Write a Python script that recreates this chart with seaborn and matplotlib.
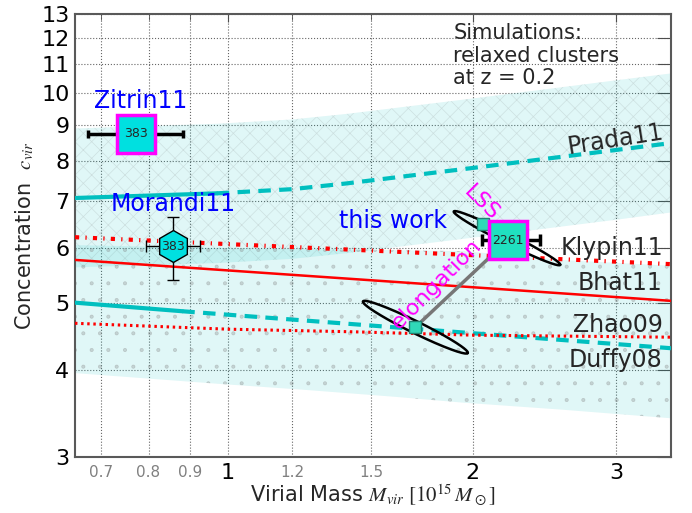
import numpy as np
import pandas as pd
import seaborn as sns
import matplotlib.pyplot as plt
from matplotlib.ticker import FixedLocator, FixedFormatter, NullLocator

sns.set_style("white")
plt.rcParams['font.family'] = ['DejaVu Sans']
plt.rcParams['mathtext.fontset'] = 'stix'
plt.rcParams['hatch.linewidth'] = 0.5

# model curves (M_vir in 1e15 Msun, concentration)
prada_m = [0.65, 0.97, 1.2, 1.4, 2.0, 3.0, 3.5]
prada_c = [7.07, 7.18, 7.28, 7.42, 7.81, 8.29, 8.48]
prada_lo = [5.62, 5.70, 5.78, 5.89, 6.20, 6.58, 6.74]
prada_hi = [8.90, 9.04, 9.17, 9.34, 9.83, 10.44, 10.68]
prada_sim_max = 0.97

duffy_m = [0.65, 0.88, 3.5]
duffy_c = [5.00, 4.86, 4.30]
duffy_sim_max = 0.88
duffy_band_m = [0.65, 0.98, 1.23, 1.61, 1.95, 2.56, 3.5]
duffy_lo = [3.96, 3.82, 3.75, 3.66, 3.59, 3.51, 3.41]
duffy_hi = [6.05, 5.99, 5.97, 5.95, 5.93, 5.76, 5.65]

zhao_m = [0.65, 1.0, 1.43, 2.0, 3.5]
zhao_c = [4.67, 4.58, 4.54, 4.49, 4.46]

bhat_m = [0.65, 3.5]
bhat_c = [5.76, 5.03]

klypin_m = [0.65, 3.5]
klypin_c = [6.21, 5.68]

# observations
zitrin = dict(m=0.773, c=8.74, mlo=0.674, mhi=0.882, n='383')
morandi = dict(m=0.858, c=6.03, mlo=0.795, mhi=0.925, clo=5.39, chi=6.64, n='383')
thiswork = dict(m=2.208, c=6.15, mlo=2.05, mhi=2.42, n='2261')

# LSS / elongation corrected points and their ellipses (log space)
path_m = [2.058, 2.208, 1.70]
path_c = [6.48, 6.15, 4.61]
small_m = [2.058, 1.70]
small_c = [6.48, 4.61]
ell_m = [2.202, 1.70]
ell_c = [6.19, 4.61]
ell_a = [(0.0653, -0.0384), (0.0643, -0.0371)]
ell_b = [(0.0027, 0.0065), (0.00325, 0.0077)]

cyan = '#00BFBF'
band = (0.0, 0.75, 0.75, 0.12)

fig = plt.figure(figsize=(6.92, 5.13), dpi=100)
ax = fig.add_axes([0.1084, 0.1092, 0.8613, 0.8635])
ax.set_xscale('log')
ax.set_yscale('log')

ax.fill_between(prada_m, prada_lo, prada_hi, facecolor=band,
                edgecolor=(0.5, 0.5, 0.5, 0.2), hatch='xx', lw=0, zorder=1)
ax.fill_between(duffy_band_m, duffy_lo, duffy_hi, facecolor=band,
                edgecolor=(0.5, 0.5, 0.5, 0.3), hatch='.', lw=0, zorder=1)

pr = pd.DataFrame({'m': prada_m, 'c': prada_c})
du = pd.DataFrame({'m': duffy_m, 'c': duffy_c})
sns.lineplot(data=pr[pr.m <= prada_sim_max], x='m', y='c', color=cyan, lw=3, ax=ax, zorder=3)
sns.lineplot(data=pr[pr.m >= prada_sim_max], x='m', y='c', color=cyan, lw=3,
             ls=(0, (3, 2)), ax=ax, zorder=3)
sns.lineplot(data=du[du.m <= duffy_sim_max], x='m', y='c', color=cyan, lw=3, ax=ax, zorder=3)
sns.lineplot(data=du[du.m >= duffy_sim_max], x='m', y='c', color=cyan, lw=3,
             ls=(0, (3, 2)), ax=ax, zorder=3)
sns.lineplot(x=zhao_m, y=zhao_c, color='red', lw=2.2, ls=(0, (0.8, 1.2)), ax=ax, zorder=3)
sns.lineplot(x=bhat_m, y=bhat_c, color='red', lw=1.8, ax=ax, zorder=3)
sns.lineplot(x=klypin_m, y=klypin_c, color='red', lw=3, ls=(0, (1, 1.5, 0.3, 1.5)), ax=ax, zorder=3)

# ellipses
t = np.linspace(0, 2 * np.pi, 200)
for m0, c0, a, b in zip(ell_m, ell_c, ell_a, ell_b):
    lx = np.log10(m0) + a[0] * np.cos(t) + b[0] * np.sin(t)
    ly = np.log10(c0) + a[1] * np.cos(t) + b[1] * np.sin(t)
    ax.plot(10 ** lx, 10 ** ly, color='black', lw=1.8, zorder=4)

ax.plot(path_m, path_c, color='#777777', lw=2.5, zorder=5)
ax.plot(small_m, small_c, 's', ms=9, mfc='#30D8B8', mec='#208070', mew=1, zorder=6)

# data points
ax.errorbar(zitrin['m'], zitrin['c'],
            xerr=[[zitrin['m'] - zitrin['mlo']], [zitrin['mhi'] - zitrin['m']]],
            fmt='s', ms=27, mfc='#00E0E0', mec='magenta', mew=2.5,
            ecolor='black', elinewidth=2.5, capsize=3, capthick=3, zorder=7)
ax.text(zitrin['m'], zitrin['c'], zitrin['n'], ha='center', va='center', fontsize=9, zorder=8)

ax.errorbar(morandi['m'], morandi['c'],
            xerr=[[morandi['m'] - morandi['mlo']], [morandi['mhi'] - morandi['m']]],
            yerr=[[morandi['c'] - morandi['clo']], [morandi['chi'] - morandi['c']]],
            fmt='h', ms=23, mfc='#00E0E0', mec='black', mew=1,
            ecolor='black', elinewidth=1, capsize=4, capthick=1, zorder=7)
ax.text(morandi['m'], morandi['c'], morandi['n'], ha='center', va='center', fontsize=9, zorder=8)

ax.errorbar(thiswork['m'], thiswork['c'],
            xerr=[[thiswork['m'] - thiswork['mlo']], [thiswork['mhi'] - thiswork['m']]],
            fmt='s', ms=28, mfc='#20E0C0', mec='magenta', mew=2.5,
            ecolor='black', elinewidth=2.5, capsize=4, capthick=3, zorder=7)
ax.text(thiswork['m'], thiswork['c'], thiswork['n'], ha='center', va='center', fontsize=9, zorder=8)

# labels
ax.text(2.99, 8.59, 'Prada11', rotation=9, ha='center', va='center', fontsize=17, zorder=9)
for lab, yb in [('Klypin11', 5.85), ('Bhat11', 5.21), ('Zhao09', 4.54), ('Duffy08', 4.04)]:
    ax.text(3.42, yb, lab, ha='right', va='baseline', fontsize=17, zorder=9)
ax.text(0.685, 9.51, 'Zitrin11', color='blue', fontsize=17, va='baseline', zorder=9)
ax.text(0.719, 6.78, 'Morandi11', color='blue', fontsize=17, va='baseline', zorder=9)
ax.text(1.372, 6.40, 'this work', color='blue', fontsize=17, va='baseline', zorder=9)
ax.text(2.05, 6.95, 'LSS', color='magenta', rotation=-45, rotation_mode='anchor',
        ha='center', va='center', fontsize=16, zorder=9)
ax.text(1.806, 5.31, 'elongation', color='magenta', rotation=45, rotation_mode='anchor',
        ha='center', va='center', fontsize=16, zorder=9)
ax.text(1.892, 12.6, 'Simulations:\nrelaxed clusters\nat z = 0.2', ha='left', va='top',
        fontsize=15, linespacing=1.15, zorder=9)

ax.set_xlim(0.65, 3.5)
ax.set_ylim(3, 13)

ax.xaxis.set_major_locator(FixedLocator([1, 2, 3]))
ax.xaxis.set_major_formatter(FixedFormatter(['1', '2', '3']))
ax.xaxis.set_minor_locator(FixedLocator([0.7, 0.8, 0.9, 1.2, 1.5]))
ax.xaxis.set_minor_formatter(FixedFormatter(['0.7', '0.8', '0.9', '1.2', '1.5']))
yt = list(range(3, 14))
ax.yaxis.set_major_locator(FixedLocator(yt))
ax.yaxis.set_major_formatter(FixedFormatter([str(v) for v in yt]))
ax.yaxis.set_minor_locator(NullLocator())

ax.tick_params(which='both', direction='in', top=True, right=True, colors='0.3')
ax.tick_params(axis='x', which='major', labelsize=16, length=6, pad=4, labelcolor='black')
ax.tick_params(axis='x', which='minor', labelsize=11, length=4, pad=6, labelcolor='gray')
ax.tick_params(axis='y', which='major', labelsize=16, length=10, pad=4, labelcolor='black')

ax.xaxis.grid(True, which='both', ls=':', color='0.4', lw=0.8)
ax.yaxis.grid(True, which='major', ls=':', color='0.4', lw=0.8)
for s in ax.spines.values():
    s.set_color('0.35')
    s.set_linewidth(1.5)

ax.set_xlabel(r'Virial Mass $M_{vir}\ [10^{15}\,M_\odot]$', fontsize=15, labelpad=0)
ax.set_ylabel(r'Concentration  $c_{vir}$', fontsize=15, labelpad=4)

plt.savefig('out.png', dpi=100)
